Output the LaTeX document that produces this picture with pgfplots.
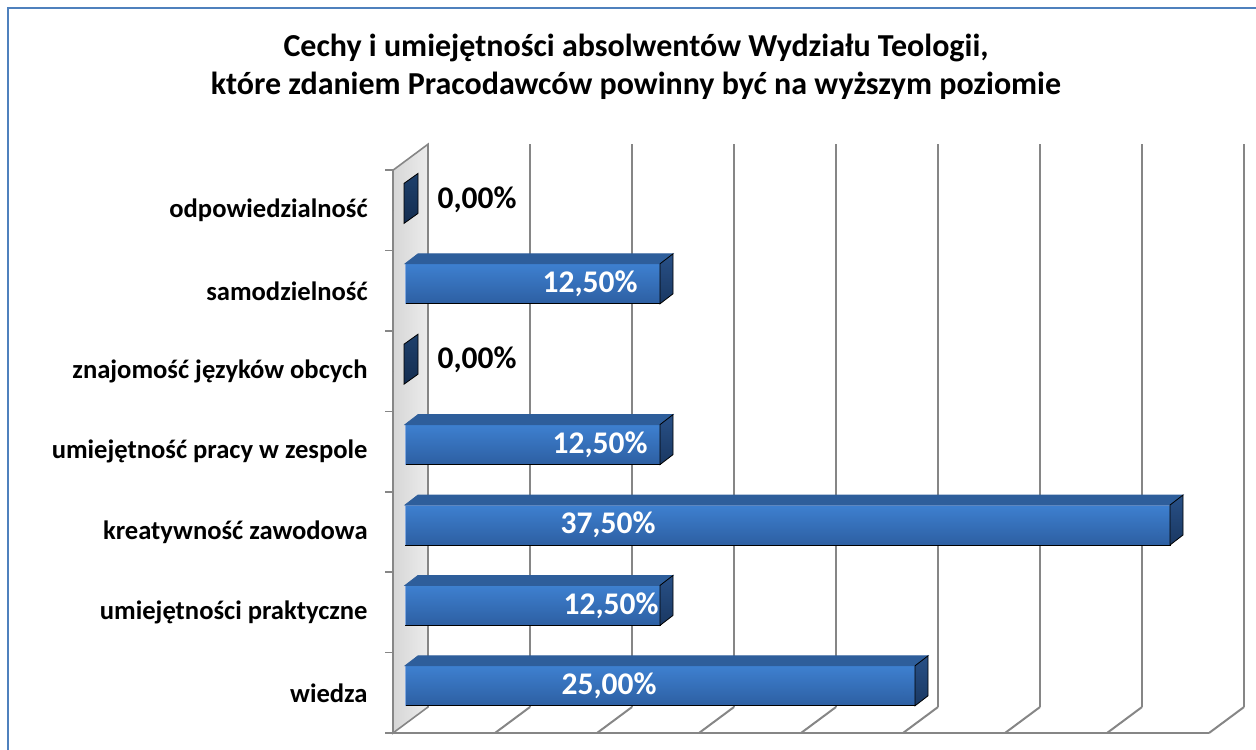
\documentclass[border=0pt]{standalone}
\usepackage{pgfplots}
\pgfplotsset{compat=1.18}
\usepackage{pgfplotstable}
\usepackage{fontspec}
\setmainfont{Carlito}
\definecolor{framec}{RGB}{79,129,189}
\definecolor{gridc}{RGB}{134,134,134}
\definecolor{barTop}{RGB}{62,128,208}
\definecolor{barBot}{RGB}{45,95,162}
\definecolor{barTopFace}{RGB}{46,94,155}
\definecolor{sideTop}{RGB}{40,80,135}
\definecolor{sideBot}{RGB}{26,56,98}
\definecolor{zeroTop}{RGB}{30,64,108}
\definecolor{zeroBot}{RGB}{20,45,80}
\definecolor{barEdge}{RGB}{130,168,222}

% y: category row, v: value in %, lx/ly: data-label position
\pgfplotstableread{
y v lx ly
0 25.0 10.59 0.087
1 12.5 10.69 1.087
2 37.5 10.54 2.087
3 12.5 10.15 3.087
4 0.0 4.12 4.137
5 12.5 9.66 5.087
6 0.0 4.12 6.137
}\datatable

\begin{document}
\begin{tikzpicture}
\useasboundingbox (0,0) rectangle (628pt,-374.5pt);
\begin{scope}
\clip (0,0) rectangle (628pt,-374.5pt);
\draw[framec, line width=1pt] (4pt,-4pt) rectangle (700pt,-450pt);
\end{scope}
\node[font=\bfseries\fontsize{16}{19}\selectfont, align=center] at (318pt,-33.5pt)
  {Cechy i umiejętności absolwentów Wydziału Teologii,\\które zdaniem Pracodawców powinny być na wyższym poziomie};
\begin{axis}[
  at={(196.5pt,-366.5pt)}, anchor=south west,
  scale only axis, x=10.2pt, y=40.2pt,
  xmin=0, xmax=40, ymin=-0.5, ymax=6.5,
  clip=false,
  axis line style={draw=none},
  xtick=\empty, xmajorticks=false,
  ytick={0,...,6},
  yticklabels={wiedza, umiejętności praktyczne, kreatywność zawodowa, umiejętność pracy w zespole, znajomość języków obcych, samodzielność, odpowiedzialność},
  ytick pos=left, major tick length=0pt,
  minor ytick={-0.5,0.5,...,6.5},
  minor tick length=4pt, tick align=outside,
  minor tick style={gridc, line width=0.8pt},
  yticklabel style={font=\bfseries\fontsize{13.3}{15}\selectfont, inner sep=0pt, anchor=east, xshift=-12.5pt},
]
% back wall grid lines and floor
\pgfplotsinvokeforeach{5,10,...,40}{
  \draw[gridc, line width=1pt] ([shift={(17.5pt,13pt)}]axis cs:#1,-0.5) -- ([shift={(17.5pt,13pt)}]axis cs:#1,6.5);
  \draw[gridc, line width=1pt] (axis cs:#1,-0.5) -- ([shift={(17.5pt,13pt)}]axis cs:#1,-0.5);
}
\draw[gridc, line width=1pt] (axis cs:0,-0.5) -- (axis cs:40,-0.5);
% left wall
\shadedraw[left color=gray!32, middle color=white, right color=gray!15, draw=gridc, line width=0.8pt]
  (axis cs:0,-0.5) -- (axis cs:0,6.5) -- ([shift={(17.5pt,13pt)}]axis cs:0,6.5) -- ([shift={(17.5pt,13pt)}]axis cs:0,-0.5) -- cycle;
% 3D bars
\addplot[scatter, only marks, mark=*, mark size=0pt,
  visualization depends on={\thisrow{v} \as \barval},
  scatter/@pre marker code/.code={%
    \pgfmathsetmacro\L{\barval*10.2}%
    \ifdim\L pt>0.01pt
      \shade[top color=barTop, bottom color=barBot] (-\L pt+6pt,-6.5pt) rectangle (6pt,13.5pt);
      \draw[barEdge, line width=0.4pt] (-\L pt+6pt,-6.5pt) -- (-\L pt+6pt,13.5pt) -- (6pt,13.5pt);
      \fill[barTopFace] (-\L pt+6pt,13.5pt) -- (6pt,13.5pt) -- (12.5pt,18.5pt) -- (-\L pt+12.5pt,18.5pt) -- cycle;
      \shade[top color=sideTop, bottom color=sideBot] (6pt,-6.5pt) -- (6pt,13.5pt) -- (12.5pt,18.5pt) -- (12.5pt,-1.5pt) -- cycle;
    \else
      \shade[top color=zeroTop, bottom color=zeroBot] (5.5pt,-6.5pt) -- (5.5pt,13.5pt) -- (12.5pt,18.5pt) -- (12.5pt,-1.5pt) -- cycle;
    \fi
  },
  scatter/@post marker code/.code={},
] table[x=v, y=y] {\datatable};
% data labels (drawn after the bars)
\addplot[scatter, only marks, mark=*, mark size=0pt,
  visualization depends on={\thisrow{v} \as \labval},
  scatter/@pre marker code/.code={%
    \pgfmathsetmacro\Lv{\labval*1}%
    \ifdim\Lv pt>0.01pt \def\labcol{white}\else\def\labcol{black}\fi
    \node[font=\bfseries\fontsize{15.75}{18}\selectfont, text=\labcol, inner sep=0pt] at (0pt,0pt)
      {\pgfmathprintnumber[fixed, fixed zerofill, precision=2, use comma, assume math mode=true]{\labval}\%};
  },
  scatter/@post marker code/.code={},
] table[x=lx, y=ly] {\datatable};
\end{axis}
\end{tikzpicture}
\end{document}
